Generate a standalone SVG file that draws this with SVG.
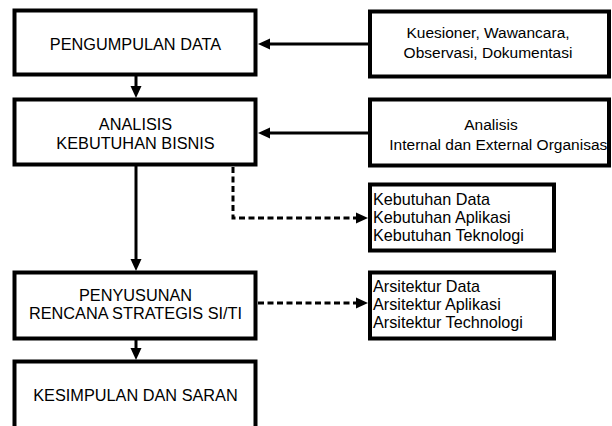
<svg xmlns="http://www.w3.org/2000/svg" width="612" height="426" viewBox="0 0 612 426">
<defs>
<style>
.box{fill:#fff;stroke:#000;stroke-width:4}
.t{font-family:"Liberation Sans",Arial,sans-serif;fill:#000}
.c{font-size:16.3px;text-anchor:middle}
.r{font-size:15.5px;text-anchor:middle}
.l{font-size:16.2px}
.ln{fill:none;stroke:#000;stroke-width:3}
.dl{fill:none;stroke:#000;stroke-width:3;stroke-dasharray:6 3.5}
</style>
<marker id="ah" markerUnits="userSpaceOnUse" viewBox="0 0 12 12" refX="0" refY="6" markerWidth="12" markerHeight="12" orient="auto">
<path d="M0,0.5 L12,6 L0,11.5 z" fill="#000"/>
</marker>
</defs>
<rect width="612" height="426" fill="#fff"/>
<g id="connectors">
<line class="ln" x1="370" y1="44" x2="270" y2="44" marker-end="url(#ah)"/>
<line class="ln" x1="370" y1="133" x2="270" y2="133" marker-end="url(#ah)"/>
<line class="ln" x1="136" y1="75" x2="136" y2="86" marker-end="url(#ah)"/>
<line class="ln" x1="136" y1="165" x2="136" y2="259" marker-end="url(#ah)"/>
<line class="ln" x1="136" y1="339" x2="136" y2="348" marker-end="url(#ah)"/>
<polyline class="dl" points="233,167 233,218 356,218" marker-end="url(#ah)"/>
<line class="dl" x1="258" y1="303" x2="356" y2="303" marker-end="url(#ah)"/>
</g>
<g id="pengumpulan">
<rect class="box" x="14.5" y="10.5" width="241" height="64"/>
<text class="t c" x="135.5" y="50">PENGUMPULAN DATA</text>
</g>
<g id="analisis">
<rect class="box" x="14.5" y="99.5" width="241" height="65"/>
<text class="t c" x="135.5" y="130">ANALISIS</text>
<text class="t c" x="135.5" y="149">KEBUTUHAN BISNIS</text>
</g>
<g id="penyusunan">
<rect class="box" x="14.5" y="272.5" width="241" height="66"/>
<text class="t c" x="135.5" y="301">PENYUSUNAN</text>
<text class="t c" x="135.5" y="319">RENCANA STRATEGIS SI/TI</text>
</g>
<g id="kesimpulan">
<rect class="box" x="14.5" y="361.5" width="241" height="75"/>
<text class="t c" x="135.5" y="401">KESIMPULAN DAN SARAN</text>
</g>
<g id="kuesioner">
<rect class="box" x="370" y="11.5" width="239" height="65"/>
<text class="t r" x="488" y="38">Kuesioner, Wawancara,</text>
<text class="t r" x="488" y="58">Observasi, Dokumentasi</text>
</g>
<g id="analisis-internal">
<rect class="box" x="370" y="99.5" width="239" height="66"/>
<text class="t r" x="491" y="130">Analisis</text>
<text class="t r" x="500" y="150">Internal dan External Organisasi</text>
</g>
<g id="kebutuhan">
<rect class="box" x="370" y="184.5" width="184" height="66"/>
<text class="t l" x="373" y="205">Kebutuhan Data</text>
<text class="t l" x="373" y="223">Kebutuhan Aplikasi</text>
<text class="t l" x="373" y="241">Kebutuhan Teknologi</text>
</g>
<g id="arsitektur">
<rect class="box" x="370" y="272.5" width="184" height="66"/>
<text class="t l" x="373" y="292">Arsitektur Data</text>
<text class="t l" x="373" y="310">Arsitektur Aplikasi</text>
<text class="t l" x="373" y="328">Arsitektur Technologi</text>
</g>
</svg>
